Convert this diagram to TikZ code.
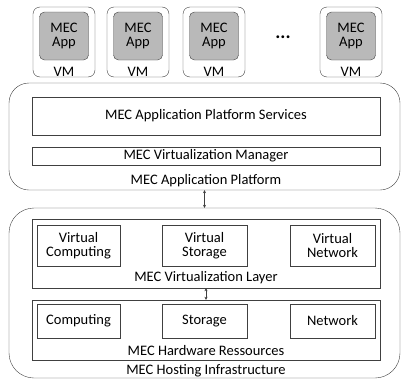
\documentclass[tikz,border=0pt]{standalone}
\usepackage{fontspec}
\setsansfont{Carlito}
\definecolor{mecline}{RGB}{64,64,64}
\definecolor{mecgray}{RGB}{185,185,185}
\tikzset{every picture/.style={/utils/exec={\sffamily}}}
\usetikzlibrary{positioning,arrows.meta}

\begin{document}
\begin{tikzpicture}[x=1pt,y=-1pt,
    box/.style={draw=mecline,rectangle,inner sep=0pt,align=center,
      font=\fontsize{14.5}{15.5}\selectfont},
    lbl/.style={inner sep=0pt,font=\fontsize{14.5}{15.5}\selectfont},
    dbl/.style={{Stealth[length=3pt,width=3pt]}-{Stealth[length=3pt,width=3pt]},draw=mecline,thin},
  ]
  \useasboundingbox (0,0) rectangle (403,380);

  % virtual machines with their apps
  \begin{scope}[every node/.append style={box}]
    \foreach \x [count=\i] in {64,138,214,351} {
      \node [rounded corners=7pt,minimum width=62,minimum height=70] (vm\i) at (\x,42) {};
      \node [fill=mecgray,rounded corners=5pt,minimum width=49,minimum height=48] (app\i) at (\x,36) {MEC\\[-2pt]App};
    }
  \end{scope}
  \foreach \x [count=\i] in {64,138,214,351}
    \node [lbl] (vml\i) at (\x,72) {VM};
  \node [lbl,font=\fontsize{19}{19}\bfseries] (dots) at (283,37) {...};

  % application platform
  \node [box,rounded corners=20pt,minimum width=391,minimum height=107] (plat) at (204.5,136.5) {};
  \node [box,minimum width=348,minimum height=38] (svc) at (206,116) {MEC Application Platform Services};
  \node [box,minimum width=348,minimum height=18] (vman) at (206,156) {MEC Virtualization Manager};
  \node [lbl] (platl) at (206,181) {MEC Application Platform};

  % hosting infrastructure
  \node [box,rounded corners=25pt,minimum width=391,minimum height=170] (host) at (204.5,293) {};
  \node [box,minimum width=348,minimum height=69] (layer) at (206,253.5) {};
  \node [box,minimum width=348,minimum height=60] (hw) at (206,330) {};
  \foreach \x/\w/\t [count=\i] in {78.5/83/Computing,204.5/85/Storage,332.5/85/Network} {
    \node [box,minimum width=\w,minimum height=41] (v\i) at (\x,245.5) {Virtual\\[-2pt]\t};
    \node [box,minimum width=\w,minimum height=34] (h\i) at (\x,321) {\t};
  }
  \node [lbl] (layerl) at (206,278) {MEC Virtualization Layer};
  \node [lbl] (hwl) at (206,351) {MEC Hardware Ressources};
  \node [lbl] (hostl) at (206,371) {MEC Hosting Infrastructure};

  \draw [dbl] (plat.south) -- (host.north);
  \draw [dbl] (layer.south) -- (hw.north);
\end{tikzpicture}
\end{document}
